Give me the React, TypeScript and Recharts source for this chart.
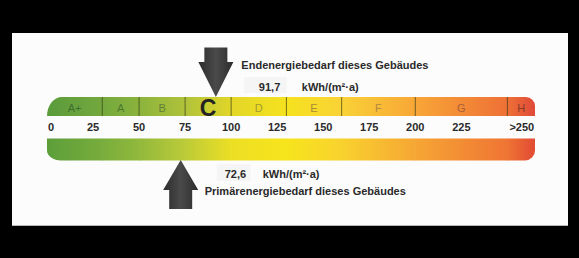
import React from 'react';
import { ComposedChart, Bar, XAxis, YAxis, ReferenceDot, LabelList } from 'recharts';

// ---- data ----
const classNames = ['A+', 'A', 'B', 'C', 'D', 'E', 'F', 'G', 'H'];
const classBounds = [0, 30, 50, 75, 100, 130, 160, 200, 250, 265];
const topColors = ['#5a9b3b', '#74a83e', '#8bb33c', '#b0c23a', '#e2d628', '#f6e21e', '#f9d236', '#f8a637', '#ee7036', '#df4a39'];
const bottomColors = ['#5d9e3a', '#78ad3c', '#92b93c', '#bccb38', '#ecdf24', '#f7e41c', '#f8d22e', '#f6a634', '#ef7434', '#e14a33'];
const classLabelColors = ['#3d7030', '#4c7a30', '#627f35', '#222222', '#a69a2c', '#a98c34', '#b38a40', '#a8603a', '#8a3a2a'];
const highlightedClass = 'C';
const scaleTicks = [0, 25, 50, 75, 100, 125, 150, 175, 200, 225, 250];
const tickLabels = ['0', '25', '50', '75', '100', '125', '150', '175', '200', '225', '>250'];
const endenergie = 91.7;
const primaerenergie = 72.6;
const unitLabel = 'kWh/(m²·a)';
const endTitle = 'Endenergiebedarf dieses Gebäudes';
const primTitle = 'Primärenergiebedarf dieses Gebäudes';

const segRow = (row: string) => {
  const r: Record<string, any> = { row };
  classNames.forEach((c, i) => { r[c] = classBounds[i + 1] - classBounds[i]; });
  return r;
};
const topData = [segRow('Endenergie')];
const bottomData = [segRow('Primärenergie')];

// ---- layout / style ----
const W = 579;
const H = 258;
const FONT = '"Liberation Sans", Arial, Helvetica, sans-serif';
const TOP_MARGIN = { top: 97, right: 44, bottom: 122.5, left: 47 };
const TOP_BAR_H = 18.5;
const BOT_MARGIN = { top: 138.5, right: 44, bottom: 98, left: 47 };
const BOT_BAR_H = 21.5;
const TEXT_COLOR = '#2a2a2a';
const fmt = (v: number) => v.toFixed(1).replace('.', ',');

function segShape(props: any, i: number, variant: 'top' | 'bottom') {
  const { x, y, width, height } = props;
  if (width == null || height == null) return <g />;
  const colors = variant === 'top' ? topColors : bottomColors;
  const id = `seg-${variant}-${i}`;
  const last = i === classNames.length - 1;
  const w = last ? width : width + 0.6;
  let d = '';
  if (variant === 'top' && i === 0) {
    const rx = 15, ry = height;
    d = `M${x},${y + height} L${x},${y + ry} A${rx},${ry} 0 0 1 ${x + rx},${y} L${x + w},${y} L${x + w},${y + height} Z`;
  } else if (variant === 'top' && last) {
    const rx = 9, ry = 9;
    d = `M${x},${y} L${x + w - rx},${y} A${rx},${ry} 0 0 1 ${x + w},${y + ry} L${x + w},${y + height} L${x},${y + height} Z`;
  } else if (variant === 'bottom' && i === 0) {
    const rx = 14, ry = 10;
    d = `M${x},${y} L${x + w},${y} L${x + w},${y + height} L${x + rx},${y + height} A${rx},${ry} 0 0 1 ${x},${y + height - ry} Z`;
  } else if (variant === 'bottom' && last) {
    const rx = 10, ry = 10;
    d = `M${x},${y} L${x + w},${y} L${x + w},${y + height - ry} A${rx},${ry} 0 0 1 ${x + w - rx},${y + height} L${x},${y + height} Z`;
  } else {
    d = `M${x},${y} L${x + w},${y} L${x + w},${y + height} L${x},${y + height} Z`;
  }
  return (
    <g>
      <defs>
        <linearGradient id={id} x1="0" y1="0" x2="1" y2="0">
          <stop offset="0%" stopColor={colors[i]} />
          <stop offset="100%" stopColor={colors[i + 1]} />
        </linearGradient>
      </defs>
      <path d={d} fill={`url(#${id})`} />
      {variant === 'top' && i > 0 && (
        <line x1={x} x2={x} y1={y} y2={y + height} stroke="rgba(45,50,15,0.65)" strokeWidth={1} />
      )}
    </g>
  );
}

function classLabel(props: any, i: number) {
  const { x, y, width, height } = props;
  const big = classNames[i] === highlightedClass;
  return (
    <text
      x={x + width / 2}
      y={y + height / 2 + 1}
      textAnchor="middle"
      dominantBaseline="central"
      fontFamily={FONT}
      fontSize={big ? 23 : 11}
      fontWeight={big ? 'bold' : 'normal'}
      fill={classLabelColors[i]}
    >
      {classNames[i]}
    </text>
  );
}

function ScaleTick(props: any) {
  const { x, y, payload, index } = props;
  const n = scaleTicks.length;
  const edge = index === 0 || index === n - 1;
  return (
    <text
      x={edge ? x + (index === 0 ? 1 : 2) : x}
      y={y}
      dy="0.71em"
      textAnchor={edge ? 'start' : 'middle'}
      fontFamily={FONT}
      fontSize={11}
      fontWeight="bold"
      fill={TEXT_COLOR}
    >
      {tickLabels[scaleTicks.indexOf(payload.value)]}
    </text>
  );
}

function ArrowGrad({ id }: { id: string }) {
  return (
    <defs>
      <linearGradient id={id} x1="0" y1="0" x2="1" y2="0">
        <stop offset="0%" stopColor="#2c2c2c" />
        <stop offset="50%" stopColor="#4a4a4a" />
        <stop offset="100%" stopColor="#2c2c2c" />
      </linearGradient>
    </defs>
  );
}

function DownMarker(props: any) {
  const { cx, cy } = props;
  const tx = cx;
  const ty = cy - TOP_BAR_H / 2;
  const headH = 35, headW = 17.5, shaftW = 11.5, total = 49.5;
  const d = `M${tx},${ty} L${tx - headW},${ty - headH} L${tx - shaftW},${ty - headH} L${tx - shaftW},${ty - total} L${tx + shaftW},${ty - total} L${tx + shaftW},${ty - headH} L${tx + headW},${ty - headH} Z`;
  return (
    <g>
      <ArrowGrad id="arrow-down" />
      <path d={d} fill="url(#arrow-down)" />
      <text x={tx + 25.5} y={ty - 28} fontFamily={FONT} fontSize={11} fontWeight="bold" fill={TEXT_COLOR}>{endTitle}</text>
      <rect x={tx + 28} y={ty - 20} width={43} height={16} fill="#f5f5f5" />
      <text x={tx + 43} y={ty - 6.5} fontFamily={FONT} fontSize={11} fontWeight="bold" fill={TEXT_COLOR}>{fmt(endenergie)}</text>
      <text x={tx + 86} y={ty - 6.5} fontFamily={FONT} fontSize={11} fontWeight="bold" fill={TEXT_COLOR}>{unitLabel}</text>
    </g>
  );
}

function UpMarker(props: any) {
  const { cx, cy } = props;
  const tx = cx;
  const by = cy + BOT_BAR_H / 2;
  const headH = 30, headW = 17.5, shaftW = 11.5, total = 49;
  const d = `M${tx},${by} L${tx - headW},${by + headH} L${tx - shaftW},${by + headH} L${tx - shaftW},${by + total} L${tx + shaftW},${by + total} L${tx + shaftW},${by + headH} L${tx + headW},${by + headH} Z`;
  return (
    <g>
      <ArrowGrad id="arrow-up" />
      <path d={d} fill="url(#arrow-up)" />
      <rect x={tx + 36} y={by + 4} width={34} height={17} fill="#f5f5f5" />
      <text x={tx + 44} y={by + 17.5} fontFamily={FONT} fontSize={11} fontWeight="bold" fill={TEXT_COLOR}>{fmt(primaerenergie)}</text>
      <text x={tx + 82} y={by + 17.5} fontFamily={FONT} fontSize={11} fontWeight="bold" fill={TEXT_COLOR}>{unitLabel}</text>
      <text x={tx + 24} y={by + 35} fontFamily={FONT} fontSize={11} fontWeight="bold" fill={TEXT_COLOR}>{primTitle}</text>
    </g>
  );
}

const domain: [number, number] = [classBounds[0], classBounds[classBounds.length - 1]];

export default function App() {
  return (
    <div style={{ position: 'absolute', left: 0, top: 0, width: W, height: H, background: '#000', overflow: 'hidden' }}>
      <div style={{ position: 'absolute', left: 12, top: 33, width: 556, height: 192, background: '#fcfcfc', borderBottom: '1px solid #b8b8b8' }} />
      <div style={{ position: 'absolute', left: 0, top: 0 }}>
        <ComposedChart width={W} height={H} data={topData} layout="vertical" margin={TOP_MARGIN} barCategoryGap={0}>
          <XAxis type="number" domain={domain} ticks={scaleTicks} interval={0} axisLine={false} tickLine={false} height={20} tick={<ScaleTick />} allowDataOverflow />
          <YAxis type="category" dataKey="row" hide />
          {classNames.map((c, i) => (
            <Bar key={c} dataKey={c} stackId="s" isAnimationActive={false} shape={(p: any) => segShape(p, i, 'top')}>
              <LabelList dataKey={c} content={(p: any) => classLabel(p, i)} />
            </Bar>
          ))}
          <ReferenceDot x={endenergie} y="Endenergie" ifOverflow="visible" shape={(p: any) => <DownMarker {...p} />} />
        </ComposedChart>
      </div>
      <div style={{ position: 'absolute', left: 0, top: 0 }}>
        <ComposedChart width={W} height={H} data={bottomData} layout="vertical" margin={BOT_MARGIN} barCategoryGap={0}>
          <XAxis type="number" domain={domain} hide allowDataOverflow />
          <YAxis type="category" dataKey="row" hide />
          {classNames.map((c, i) => (
            <Bar key={c} dataKey={c} stackId="s" isAnimationActive={false} shape={(p: any) => segShape(p, i, 'bottom')} />
          ))}
          <ReferenceDot x={primaerenergie} y="Primärenergie" ifOverflow="visible" shape={(p: any) => <UpMarker {...p} />} />
        </ComposedChart>
      </div>
    </div>
  );
}
